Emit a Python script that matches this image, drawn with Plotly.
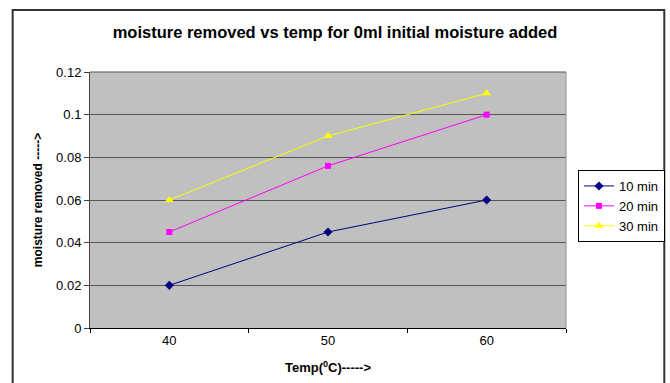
import plotly.graph_objects as go

categories = ["40", "50", "60"]
s10 = [0.02, 0.045, 0.06]
s20 = [0.045, 0.076, 0.1]
s30 = [0.06, 0.09, 0.11]
y_ticks = [0, 0.02, 0.04, 0.06, 0.08, 0.1, 0.12]

FONT = "Liberation Sans, Arial, sans-serif"

fig = go.Figure()
fig.add_trace(go.Scatter(x=categories, y=s10, name="10 min", mode="lines+markers",
                         line=dict(color="#000080", width=1),
                         marker=dict(symbol="diamond", size=7, color="#000080")))
fig.add_trace(go.Scatter(x=categories, y=s20, name="20 min", mode="lines+markers",
                         line=dict(color="#ff00ff", width=1),
                         marker=dict(symbol="square", size=6, color="#ff00ff")))
fig.add_trace(go.Scatter(x=categories, y=s30, name="30 min", mode="lines+markers",
                         line=dict(color="#ffff00", width=1),
                         marker=dict(symbol="triangle-up", size=8, color="#ffff00")))

L, R, T, B = 89.5, 103.5, 72, 55
W, H = 670, 383
pw, ph = W - L - R, H - T - B

def px(x):
    return (x - L) / pw

def py(y):
    return (H - B - y) / ph

fig.update_layout(
    width=W, height=H,
    margin=dict(l=L, r=R, t=T, b=B, pad=0, autoexpand=False),
    paper_bgcolor="white",
    plot_bgcolor="#c0c0c0",
    font=dict(family=FONT, size=13, color="black"),
    title=dict(text="<b>moisture removed vs temp for 0ml initial moisture added</b>",
               xref="container", x=335 / W, xanchor="center",
               yref="container", y=1 - 32 / H, yanchor="middle",
               font=dict(size=16.5, family=FONT)),
    xaxis=dict(type="category", range=[-0.5, 2.5], tickson="boundaries",
               ticks="outside", ticklen=4, tickcolor="black",
               showline=True, linecolor="black", linewidth=1,
               showgrid=False, zeroline=False,
               tickfont=dict(size=13),
               title=dict(text="<b>Temp(<sup>0</sup>C)-----></b>", font=dict(size=13), standoff=16)),
    yaxis=dict(range=[0, 0.12], tickvals=y_ticks,
               ticktext=["0", "0.02", "0.04", "0.06", "0.08", "0.1", "0.12"],
               ticks="outside", ticklen=5, tickcolor="#404040",
               showline=True, linecolor="#404040", linewidth=1,
               showgrid=True, gridcolor="#555555", gridwidth=1,
               zeroline=False, tickfont=dict(size=13),
               title=dict(text="<b>moisture removed -----></b>", font=dict(size=12), standoff=10)),
    legend=dict(xref="container", yref="container",
                x=578 / W, y=1 - 170 / H, xanchor="left", yanchor="top",
                bordercolor="black", borderwidth=1, bgcolor="white",
                font=dict(size=13), tracegroupgap=0, itemwidth=30),
    showlegend=True,
)

fig.add_shape(type="rect", xref="paper", yref="paper",
              x0=px(12), x1=px(665), y0=py(10), y1=py(400),
              line=dict(color="#333333", width=2), layer="below")
fig.add_shape(type="line", xref="paper", yref="paper",
              x0=1, x1=1, y0=0, y1=1, line=dict(color="#909090", width=1))
fig.add_shape(type="line", xref="paper", yref="paper",
              x0=0, x1=1, y0=1, y1=1, line=dict(color="#555555", width=1))

fig.write_html("out.html")
